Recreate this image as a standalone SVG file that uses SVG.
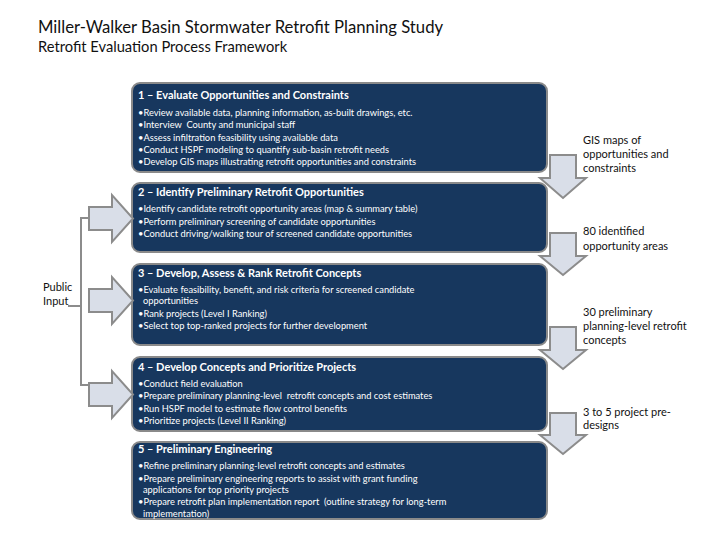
<svg xmlns="http://www.w3.org/2000/svg" width="720" height="540" viewBox="0 0 720 540">
<style>
  text { font-family: Lato, "Open Sans", "Liberation Sans", sans-serif; white-space: pre; }
  .title { font-size: 16.7px; fill: #111; }
  .sub { font-size: 14.7px; fill: #111; }
  .box { fill: #17375e; stroke: #8a8a8a; stroke-width: 2; }
  .head { font-size: 11px; font-weight: bold; fill: #fff; }
  .bul { font-size: 9.3px; fill: #fff; }
  .lbl { font-size: 11px; fill: #111; }
  .arr { fill: #d9dee8; stroke: #8c8c8c; stroke-width: 2; stroke-linejoin: miter; }
  .brk { fill: none; stroke: #8c8c8c; stroke-width: 2; }
</style>
<rect width="720" height="540" fill="#fff"/>
<g id="title">
  <text class="title" x="38" y="33">Miller-Walker Basin Stormwater Retrofit Planning Study</text>
  <text class="sub" x="38" y="52">Retrofit Evaluation Process Framework</text>
</g>
<g id="step1">
  <rect class="box" x="132" y="83" width="415" height="89" rx="8"/>
  <text class="head" x="138" y="99">1 – Evaluate Opportunities and Constraints</text>
  <text class="bul" x="138" y="116">•Review available data, planning information, as-built drawings, etc.</text>
  <text class="bul" x="138" y="128" xml:space="preserve">•Interview  County and municipal staff</text>
  <text class="bul" x="138" y="141">•Assess infiltration feasibility using available data</text>
  <text class="bul" x="138" y="153">•Conduct HSPF modeling to quantify sub-basin retrofit needs</text>
  <text class="bul" x="138" y="165">•Develop GIS maps illustrating retrofit opportunities and constraints</text>
</g>
<g id="step2">
  <rect class="box" x="132" y="183" width="415" height="69" rx="8"/>
  <text class="head" x="138" y="196">2 – Identify Preliminary Retrofit Opportunities</text>
  <text class="bul" x="138" y="212">•Identify candidate retrofit opportunity areas (map &amp; summary table)</text>
  <text class="bul" x="138" y="225">•Perform preliminary screening of candidate opportunities</text>
  <text class="bul" x="138" y="237">•Conduct driving/walking tour of screened candidate opportunities</text>
</g>
<g id="step3">
  <rect class="box" x="132" y="264" width="415" height="81" rx="8"/>
  <text class="head" x="138" y="277">3 – Develop, Assess &amp; Rank Retrofit Concepts</text>
  <text class="bul" x="138" y="293">•Evaluate feasibility, benefit, and risk criteria for screened candidate</text>
  <text class="bul" x="143" y="304">opportunities</text>
  <text class="bul" x="138" y="317">•Rank projects (Level I Ranking)</text>
  <text class="bul" x="138" y="329">•Select top top-ranked projects for further development</text>
</g>
<g id="step4">
  <rect class="box" x="132" y="357" width="415" height="74" rx="8"/>
  <text class="head" x="138" y="371">4 – Develop Concepts and Prioritize Projects</text>
  <text class="bul" x="138" y="387">•Conduct field evaluation</text>
  <text class="bul" x="138" y="399" xml:space="preserve">•Prepare preliminary planning-level  retrofit concepts and cost estimates</text>
  <text class="bul" x="138" y="412">•Run HSPF model to estimate flow control benefits</text>
  <text class="bul" x="138" y="424">•Prioritize projects (Level II Ranking)</text>
</g>
<g id="step5">
  <rect class="box" x="132" y="442" width="415" height="77" rx="8"/>
  <text class="head" x="138" y="453">5 – Preliminary Engineering</text>
  <text class="bul" x="138" y="469">•Refine preliminary planning-level retrofit concepts and estimates</text>
  <text class="bul" x="138" y="482">•Prepare preliminary engineering reports to assist with grant funding</text>
  <text class="bul" x="143" y="493">applications for top priority projects</text>
  <text class="bul" x="138" y="505" xml:space="preserve">•Prepare retrofit plan implementation report  (outline strategy for long-term</text>
  <text class="bul" x="143" y="517">implementation)</text>
</g>
<g id="connectors">
  <path class="arr" d="M550,155 H576 V178 H586 L563,198 L540,178 H550 Z"/>
  <path class="arr" d="M550,233 H576 V256 H586 L563,275 L540,256 H550 Z"/>
  <path class="arr" d="M550,327 H576 V350 H586 L563,369 L540,350 H550 Z"/>
  <path class="arr" d="M550,413 H576 V435 H586 L563,454 L540,435 H550 Z"/>
  <path class="arr" d="M89,207 H112 V195 L133,218.5 L112,242 V230 H89 Z"/>
  <path class="arr" d="M89,289 H112 V277 L133,300.5 L112,324 V312 H89 Z"/>
  <path class="arr" d="M89,383 H112 V371 L133,394.5 L112,418 V406 H89 Z"/>
  <path class="brk" d="M89,218 H81 V385 H89 M68,306 H81"/>
</g>
<g id="public-input">
  <text class="lbl" x="43" y="291">Public</text>
  <text class="lbl" x="43" y="305">Input</text>
</g>
<g id="outputs">
  <text class="lbl" x="583" y="144">GIS maps of</text>
  <text class="lbl" x="583" y="158">opportunities and</text>
  <text class="lbl" x="583" y="172">constraints</text>
  <text class="lbl" x="583" y="235">80 identified</text>
  <text class="lbl" x="583" y="250">opportunity areas</text>
  <text class="lbl" x="583" y="316">30 preliminary</text>
  <text class="lbl" x="583" y="330">planning-level retrofit</text>
  <text class="lbl" x="583" y="344">concepts</text>
  <text class="lbl" x="583" y="416">3 to 5 project pre-</text>
  <text class="lbl" x="583" y="429">designs</text>
</g>
</svg>
